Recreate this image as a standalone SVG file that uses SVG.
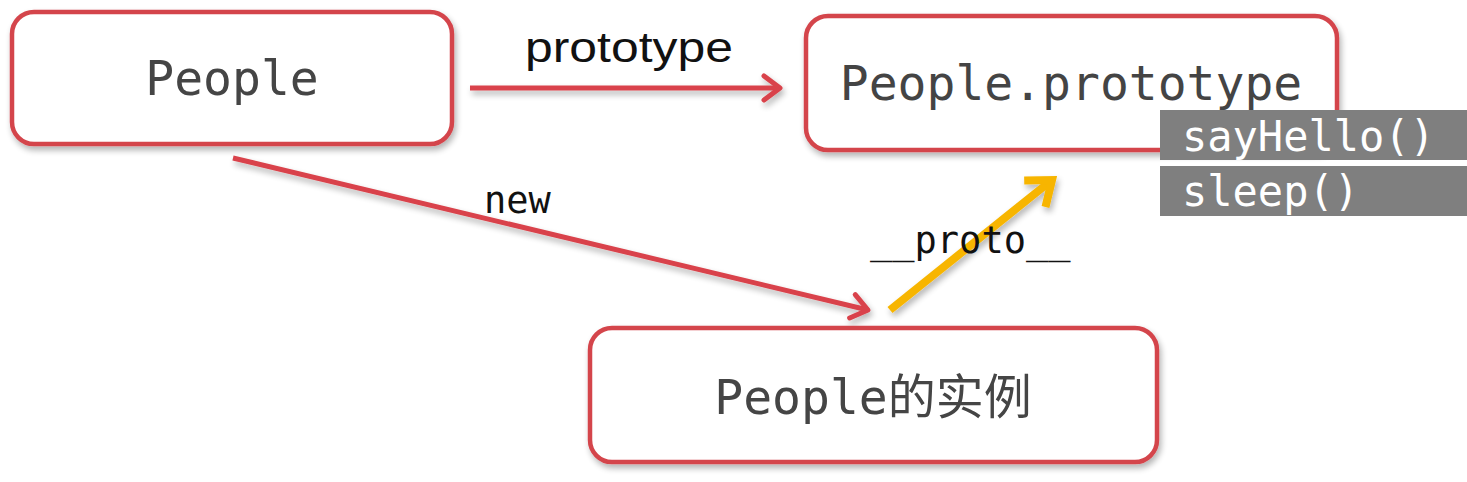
<svg xmlns="http://www.w3.org/2000/svg" width="1467" height="482" viewBox="0 0 1467 482">
<style>
.box{fill:#fff;stroke:#d4454c;stroke-width:4.5}
.nt{font-family:"DejaVu Sans Mono","Noto Sans CJK SC",monospace;font-size:48px;fill:#444;text-anchor:middle}
.mt{font-family:"DejaVu Sans Mono",monospace;font-size:42px;fill:#fff}
.lbl{font-family:"DejaVu Sans Mono",monospace;font-size:37px;fill:#111}
.red{stroke:#d9434b;stroke-width:5;fill:none}
.yel{stroke:#f7b500;stroke-width:8;fill:none}
</style>
<defs>
<filter id="sh" x="-10%" y="-20%" width="120%" height="150%">
<feGaussianBlur in="SourceAlpha" stdDeviation="3"/>
<feOffset dx="2" dy="4" result="b"/>
<feComponentTransfer><feFuncA type="linear" slope="0.3"/></feComponentTransfer>
<feMerge><feMergeNode/><feMergeNode in="SourceGraphic"/></feMerge>
</filter>
<marker id="ar" viewBox="0 0 30 30" refX="26" refY="15" markerWidth="30" markerHeight="30" markerUnits="userSpaceOnUse" orient="auto">
<path d="M10 3 L26 15 L10 27" fill="none" stroke="#d9434b" stroke-width="5" stroke-linecap="round" stroke-linejoin="round"/>
</marker>
<marker id="ay" viewBox="0 0 44 44" refX="38" refY="22" markerWidth="44" markerHeight="44" markerUnits="userSpaceOnUse" orient="auto">
<path d="M16 5 L38 22 L16 39" fill="none" stroke="#f7b500" stroke-width="8" stroke-linejoin="miter"/>
</marker>
</defs>
<rect width="1467" height="482" fill="#fff"/>
<g id="connectors" filter="url(#sh)">
<line class="red" x1="470" y1="88" x2="780" y2="88" marker-end="url(#ar)"/>
<line class="red" x1="233" y1="158" x2="868" y2="310" marker-end="url(#ar)"/>
<line class="yel" x1="890" y1="310" x2="1052" y2="180" marker-end="url(#ay)"/>
</g>
<g id="labels">
<text x="629" y="62" font-family="'Liberation Sans',Arial,sans-serif" font-size="42" fill="#111" text-anchor="middle" textLength="208" lengthAdjust="spacingAndGlyphs">prototype</text>
<text class="lbl" x="484" y="213">new</text>
<text class="lbl" x="870" y="253">__proto__</text>
</g>
<g id="node-people" filter="url(#sh)">
<rect class="box" x="12" y="12" width="440" height="132" rx="22"/>
<text class="nt" x="232" y="95">People</text>
</g>
<g id="node-prototype">
<g filter="url(#sh)">
<rect class="box" x="806" y="16" width="531" height="134" rx="22"/>
</g>
<text class="nt" x="1071" y="100">People.prototype</text>
</g>
<g id="methods">
<rect x="1160" y="110" width="307" height="50" fill="#7f7f7f"/>
<text class="mt" x="1182" y="151">sayHello()</text>
<rect x="1160" y="166" width="307" height="50" fill="#7f7f7f"/>
<text class="mt" x="1182" y="206">sleep()</text>
</g>
<g id="node-instance" filter="url(#sh)">
<rect class="box" x="590" y="328" width="567" height="134" rx="22"/>
<text class="nt" x="873" y="414" font-size="50">People的实例</text>
</g>
</svg>
